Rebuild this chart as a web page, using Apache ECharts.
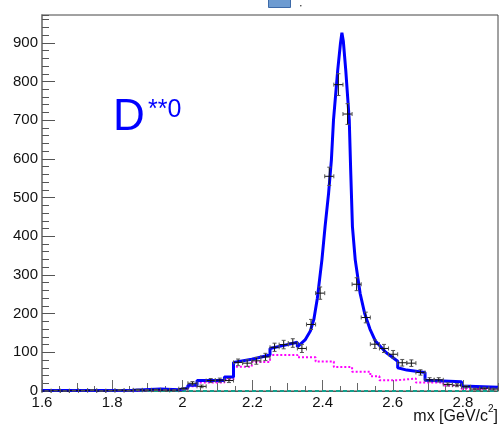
<!DOCTYPE html>
<html>
<head>
<meta charset="utf-8">
<script src="https://cdn.jsdelivr.net/npm/echarts@6/dist/echarts.min.js"></script>
<style>
  html, body { margin: 0; padding: 0; background: #fff; }
  #chart { width: 502px; height: 426px; }
</style>
</head>
<body>
<div id="chart"></div>
<script>
// histogram binning (50 bins from 1.6 to 2.9)
const binWidth = 0.026;
const binCenters = [1.613, 1.639, 1.665, 1.691, 1.717, 1.743, 1.769, 1.795, 1.821, 1.847,
  1.873, 1.899, 1.925, 1.951, 1.977, 2.003, 2.029, 2.055, 2.081, 2.107,
  2.133, 2.159, 2.185, 2.211, 2.237, 2.263, 2.289, 2.315, 2.341, 2.367,
  2.393, 2.419, 2.445, 2.471, 2.497, 2.523, 2.549, 2.575, 2.601, 2.627,
  2.653, 2.679, 2.705, 2.731, 2.757, 2.783, 2.809, 2.835, 2.861, 2.887];
const counts = [0, 1, 0, 1, 1, 2, 0, 1, 2, 1,
  3, 2, 3, 2, 2, 6, 20, 12, 27, 28,
  27, 74, 72, 78, 88, 113, 120, 124, 110, 172,
  253, 555, 792, 716, 276, 190, 121, 110, 95, 73,
  72, 48, 29, 29, 17, 15, 11, 5, 7, 5];

// total fit (blue)
const fitX = [1.6, 1.704, 1.704, 1.86, 1.86, 1.938, 1.938, 1.99, 1.99, 2.016,
  2.016, 2.042, 2.042, 2.12, 2.12, 2.146, 2.146, 2.198, 2.198, 2.25,
  2.25, 2.29, 2.328, 2.328, 2.35, 2.365, 2.375, 2.385, 2.398, 2.407,
  2.417, 2.425, 2.431, 2.443, 2.451, 2.455, 2.459, 2.466, 2.476, 2.48,
  2.485, 2.493, 2.507, 2.52, 2.535, 2.55, 2.58, 2.614, 2.614, 2.64,
  2.692, 2.692, 2.796, 2.796, 2.9];
const fitY = [1, 1, 2, 2, 5, 5, 3, 3, 8, 8,
  15, 15, 27, 27, 36, 36, 74, 82, 85, 93,
  110, 118, 126, 114, 132, 155, 185, 240, 339, 425,
  511, 597, 700, 829, 900, 926, 905, 829, 700, 571,
  425, 339, 252, 200, 160, 130, 100, 77, 60, 54,
  48, 28, 24, 13, 10];

// background component (magenta, dotted steps)
const bkgEdges = [1.6, 1.86, 1.99, 2.016, 2.042, 2.12, 2.146, 2.198, 2.25, 2.328,
  2.38, 2.432, 2.484, 2.536, 2.562, 2.614, 2.666, 2.744, 2.796, 2.9];
const bkgValues = [1, 4, 6, 12, 22, 30, 63, 75, 93, 87,
  76, 62, 50, 38, 28, 32, 22, 14, 6, 6];

const xRange = [1.6, 2.9];
const yRange = [0, 972];

var chart = echarts.init(document.getElementById('chart'), null, { renderer: 'canvas' });

function renderErr(params, api) {
  var x = api.value(0), n = api.value(1);
  var e = Math.sqrt(n);
  var c = api.coord([x, n]);
  var l = api.coord([x - binWidth / 2, n]);
  var r = api.coord([x + binWidth / 2, n]);
  var t = api.coord([x, n + e]);
  var b = api.coord([x, Math.max(n - e, 0)]);
  var s = { stroke: '#111', lineWidth: 1 };
  var g = { stroke: '#555', lineWidth: 1 };
  return {
    type: 'group',
    children: [
      { type: 'line', shape: { x1: l[0], y1: c[1], x2: r[0], y2: c[1] }, style: s },
      { type: 'line', shape: { x1: c[0], y1: t[1], x2: c[0], y2: b[1] }, style: s },
      { type: 'line', shape: { x1: l[0], y1: c[1] - 2, x2: l[0], y2: c[1] + 2 }, style: g },
      { type: 'line', shape: { x1: r[0], y1: c[1] - 2, x2: r[0], y2: c[1] + 2 }, style: g },
      { type: 'line', shape: { x1: c[0] - 2, y1: t[1], x2: c[0] + 2, y2: t[1] }, style: g },
      { type: 'line', shape: { x1: c[0] - 2, y1: b[1], x2: c[0] + 2, y2: b[1] }, style: g }
    ]
  };
}

var font = "'Liberation Sans', Arial, Helvetica, sans-serif";

// measure pieces of the axis title so the superscript can sit between them
var mctx = document.createElement('canvas').getContext('2d');
mctx.font = '16px ' + font;
var wBracket = mctx.measureText(']').width;
mctx.font = '10px ' + font;
var wSup = mctx.measureText('2').width;
var titleRight = 498;

var option = {
  animation: false,
  textStyle: { fontFamily: font },
  grid: {
    left: 42, right: 4, top: 15, bottom: 35,
    show: true, borderColor: '#444', borderWidth: 1,
    outerBoundsMode: 'none'
  },
  xAxis: [
    {
      type: 'value', min: xRange[0], max: xRange[1], interval: 0.2,
      position: 'bottom',
      axisLine: { show: true, lineStyle: { color: '#555', width: 1 } },
      axisTick: { show: true, inside: true, length: 11, lineStyle: { color: '#666' } },
      axisLabel: { show: true, fontSize: 15, color: '#111', margin: 4, showMaxLabel: false, fontFamily: font },
      splitLine: { show: false }
    },
    {
      type: 'value', min: xRange[0], max: xRange[1], interval: 0.1,
      position: 'bottom',
      axisLine: { show: false },
      axisTick: { show: true, inside: true, length: 8, lineStyle: { color: '#666' } },
      minorTick: { show: true, splitNumber: 2, length: 5, lineStyle: { color: '#666' } },
      axisLabel: { show: false },
      splitLine: { show: false }
    }
  ],
  yAxis: [
    {
      type: 'value', min: yRange[0], max: yRange[1], interval: 100,
      position: 'left',
      axisLine: { show: true, lineStyle: { color: '#8a8a8a', width: 2 } },
      axisTick: { show: true, inside: true, length: 13, lineStyle: { color: '#555' } },
      axisLabel: { show: true, fontSize: 15, color: '#111', margin: 4, showMaxLabel: false, fontFamily: font },
      splitLine: { show: false }
    },
    {
      type: 'value', min: yRange[0], max: yRange[1], interval: 20,
      position: 'left', offset: 0,
      axisLine: { show: false },
      axisTick: { show: true, inside: true, length: 7, lineStyle: { color: '#555' } },
      axisLabel: { show: false },
      splitLine: { show: false }
    }
  ],
  series: [
    {
      name: 'zero', type: 'line', z: 2, showSymbol: false,
      data: [[xRange[0], 0], [xRange[1], 0]],
      lineStyle: { color: '#12a08c', width: 2, type: [4, 3] }
    },
    {
      name: 'background', type: 'line', z: 3, step: 'end', showSymbol: false,
      data: bkgEdges.map(function (x, i) { return [x, bkgValues[i]]; }),
      lineStyle: { color: '#ff00ff', width: 2, type: [2, 2] }
    },
    {
      name: 'fit', type: 'line', z: 4, showSymbol: false,
      data: fitX.map(function (x, i) { return [x, fitY[i]]; }),
      lineStyle: { color: '#0000ff', width: 3 }
    },
    {
      name: 'data', type: 'custom', z: 5,
      renderItem: renderErr,
      encode: { x: 0, y: 1 },
      data: binCenters.map(function (x, i) { return [x, counts[i]]; })
    }
  ],
  graphic: [
    {
      type: 'rect', left: 268, top: -1, z: 10,
      shape: { width: 22, height: 8 },
      style: { fill: '#6d9bd1', stroke: '#3d6aa8', lineWidth: 1 }
    },
    {
      type: 'circle', left: 300, top: 5, z: 10,
      shape: { r: 0.8 }, style: { fill: '#333' }
    },
    {
      type: 'text', left: 113, top: 96, z: 10,
      style: { text: 'D', fill: '#0000ff', font: '44px ' + font }
    },
    {
      type: 'text', left: 148, top: 98, z: 10,
      style: { text: '**0', fill: '#0000ff', font: '25px ' + font }
    },
    {
      type: 'text', z: 10,
      style: { x: titleRight, y: 425, align: 'right', verticalAlign: 'bottom',
        text: ']', fill: '#111', font: '16px ' + font }
    },
    {
      type: 'text', z: 10,
      style: { x: titleRight - wBracket, y: 414, align: 'right', verticalAlign: 'bottom',
        text: '2', fill: '#111', font: '10px ' + font }
    },
    {
      type: 'text', z: 10,
      style: { x: titleRight - wBracket - wSup, y: 425, align: 'right', verticalAlign: 'bottom',
        text: 'mx [GeV/c', fill: '#111', font: '16px ' + font }
    }
  ]
};

chart.setOption(option);
</script>
</body>
</html>
